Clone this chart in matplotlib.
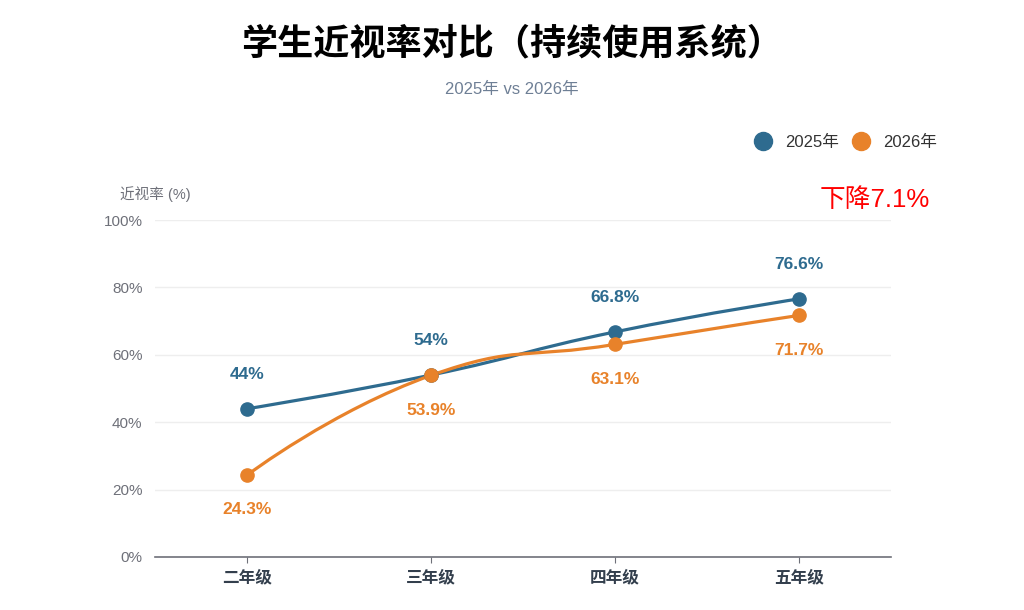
import matplotlib
matplotlib.use('Agg')
import matplotlib.pyplot as plt
from matplotlib.path import Path
from matplotlib.patches import PathPatch
from matplotlib.lines import Line2D

plt.rcParams['font.family'] = ['Liberation Sans', 'Noto Sans CJK SC', 'DejaVu Sans']

grades = ['二年级', '三年级', '四年级', '五年级']
rate_2025 = [44, 54, 66.8, 76.6]
rate_2026 = [24.3, 53.9, 63.1, 71.7]
label_2025 = ['44%', '54%', '66.8%', '76.6%']
label_2026 = ['24.3%', '53.9%', '63.1%', '71.7%']
y_ticks = [0, 20, 40, 60, 80, 100]

blue = '#2e6b8f'
orange = '#e8822a'

# pixel size of one category step and of one percent (smoothing works in pixels)
SX, SY = 184.0, 3.37


def clamp(v, a, b):
    return min(max(v, min(a, b)), max(a, b))


def smooth_path(xs, ys, smooth=0.5):
    # same idea as the echarts smooth line: bezier with clamped control points
    pts = [(x * SX, y * SY) for x, y in zip(xs, ys)]
    n = len(pts)
    verts = [pts[0]]
    codes = [Path.MOVETO]
    cp0 = pts[0]
    for i in range(1, n):
        x, y = pts[i]
        px, py = pts[i - 1]
        if i == n - 1:
            cp1 = (x, y)
            ncp = None
        else:
            nx, ny = pts[i + 1]
            vx, vy = nx - px, ny - py
            lp = ((x - px) ** 2 + (y - py) ** 2) ** 0.5
            ln = ((nx - x) ** 2 + (ny - y) ** 2) ** 0.5
            r = ln / (ln + lp)
            ncx = clamp(x + vx * smooth * r, x, nx)
            ncy = clamp(y + vy * smooth * r, y, ny)
            vx, vy = ncx - x, ncy - y
            c1x = clamp(x - vx * lp / ln, px, x)
            c1y = clamp(y - vy * lp / ln, py, y)
            vx, vy = x - c1x, y - c1y
            ncp = (x + vx * ln / lp, y + vy * ln / lp)
            cp1 = (c1x, c1y)
        verts += [cp0, cp1, (x, y)]
        codes += [Path.CURVE4] * 3
        cp0 = ncp
    verts = [(vx / SX, vy / SY) for vx, vy in verts]
    return Path(verts, codes)


fig = plt.figure(figsize=(10.24, 6.1), dpi=100)
ax = fig.add_axes([0.1514, 0.0869, 0.7188, 0.5524])

xs = list(range(len(grades)))
for vals, labels, color, off in [(rate_2025, label_2025, blue, 25),
                                 (rate_2026, label_2026, orange, -25)]:
    ax.add_patch(PathPatch(smooth_path(xs, vals), facecolor='none',
                           edgecolor=color, lw=2.3, zorder=3))
    ax.plot(xs, vals, 'o', color=color, markersize=9.5, zorder=4)
    for x, v, t in zip(xs, vals, labels):
        ax.annotate(t, (x, v), xytext=(0, off), textcoords='offset points',
                    ha='center', va='center', color=color, fontsize=12.5,
                    fontweight='bold')

ax.set_xlim(-0.5, 3.5)
ax.set_ylim(0, 100)
ax.set_xticks(xs)
ax.set_xticklabels(grades, fontsize=12, color='#333f4d', fontweight='bold')
ax.set_yticks(y_ticks)
ax.set_yticklabels([f'{t}%' for t in y_ticks], fontsize=11, color='#6e7079')
ax.tick_params(axis='y', length=0, pad=9)
ax.tick_params(axis='x', length=4, color='#6e7079', pad=5)
ax.grid(axis='y', color='#eeeeee', lw=1)
ax.set_axisbelow(True)
for s in ['top', 'right', 'left']:
    ax.spines[s].set_visible(False)
ax.spines['bottom'].set_color('#6e7079')
ax.spines['bottom'].set_linewidth(1.2)

fig.text(0.5, 1 - 45 / 610, '学生近视率对比（持续使用系统）', ha='center', va='center',
         fontsize=26, fontweight='bold', color='#000000')
fig.text(0.5, 1 - 89 / 610, '2025年 vs 2026年', ha='center', va='center',
         fontsize=12, color='#6e7f95')
fig.text(155 / 1024, 1 - 194 / 610, '近视率 (%)', ha='center', va='center',
         fontsize=10.5, color='#6e7079')
fig.text(875 / 1024, 1 - 200 / 610, '下降7.1%', ha='center', va='center',
         fontsize=18.5, color='#ff0000')

handles = [Line2D([], [], ls='none', marker='o', color=blue, markersize=13),
           Line2D([], [], ls='none', marker='o', color=orange, markersize=13)]
fig.legend(handles, ['2025年', '2026年'], loc='center', ncol=2,
           bbox_to_anchor=(845 / 1024, 1 - 142 / 610), frameon=False,
           fontsize=12, handletextpad=0.72, columnspacing=0.72,
           handlelength=1.2, labelcolor='#333333')

fig.savefig('out.png', dpi=100)
